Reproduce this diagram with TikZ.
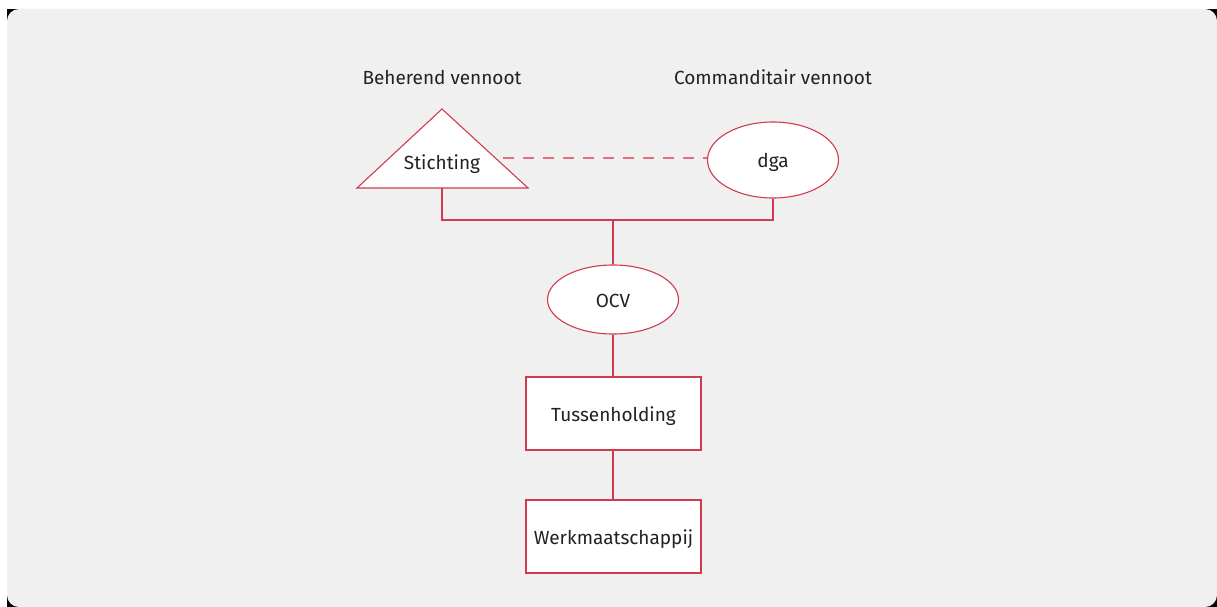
\documentclass[tikz,border=0pt]{standalone}
\usepackage{fontspec}
\setmainfont{Fira Sans}
\usetikzlibrary{shapes.geometric}
\definecolor{bgray}{HTML}{F0F0F0}
\definecolor{rline}{HTML}{D23A50}
\definecolor{rdash}{HTML}{E0707E}
\definecolor{txt}{HTML}{222222}
\begin{document}
\begin{tikzpicture}[x=1pt,y=-1pt,
  fnt/.style={font=\fontsize{19}{22}\selectfont},
  lbl/.style={text=txt,fnt},
  ent/.style={draw=rline,fill=white,line width=1.1pt,text=txt,fnt,inner sep=0pt,text height=15pt,text depth=0pt},
  ell/.style={ent,ellipse,minimum width=131pt},
  box/.style={ent,rectangle,minimum width=175pt,minimum height=73pt},
  conn/.style={draw=rline,line width=1.1pt}]
\useasboundingbox (0,0) rectangle (1217,607);
\fill[white] (0,0) rectangle (1217,607);
\fill[black] (7,9) rectangle (1217,607);
\fill[bgray,rounded corners=12pt] (7,9) rectangle (1217,607);
% labels
\node[lbl] (lb) at (442,77) {Beherend vennoot};
\node[lbl] (lc) at (773,77) {Commanditair vennoot};
% triangle
\coordinate (tA) at (442,109);
\coordinate (tL) at (357,188);
\coordinate (tR) at (528,188);
\coordinate (tB) at (442,188);
\filldraw[draw=rline,fill=white,line width=1.1pt,line join=miter] (tA) -- (tR) -- (tL) -- cycle;
\node[lbl,text height=15pt,text depth=0pt,inner sep=0pt] (st) at (442,161.5) {Stichting};
\coordinate (dL) at (503,158);
% dga
\node[ell,minimum height=76pt] (dga) at (773,160) {dga};
\draw[draw=rdash,line width=1.1pt,dash pattern=on 11pt off 9pt] (dL) -- (dga.west |- dL);
% OCV
\node[ell,minimum height=69pt] (ocv) at (613,299.5) {OCV};
\node[box] (th) at (613.5,413.5) {Tussenholding};
\node[box] (wm) at (613.5,536.5) {Werkmaatschappij};
\coordinate (j) at (613,220);
\draw[conn] (tB) |- (j) -| (dga.south);
\draw[conn] (j) -- (ocv.north);
\draw[conn] (ocv.south) -- (th.north -| ocv.south);
\draw[conn] (th.south -| ocv.south) -- (wm.north -| ocv.south);
\end{tikzpicture}
\end{document}
